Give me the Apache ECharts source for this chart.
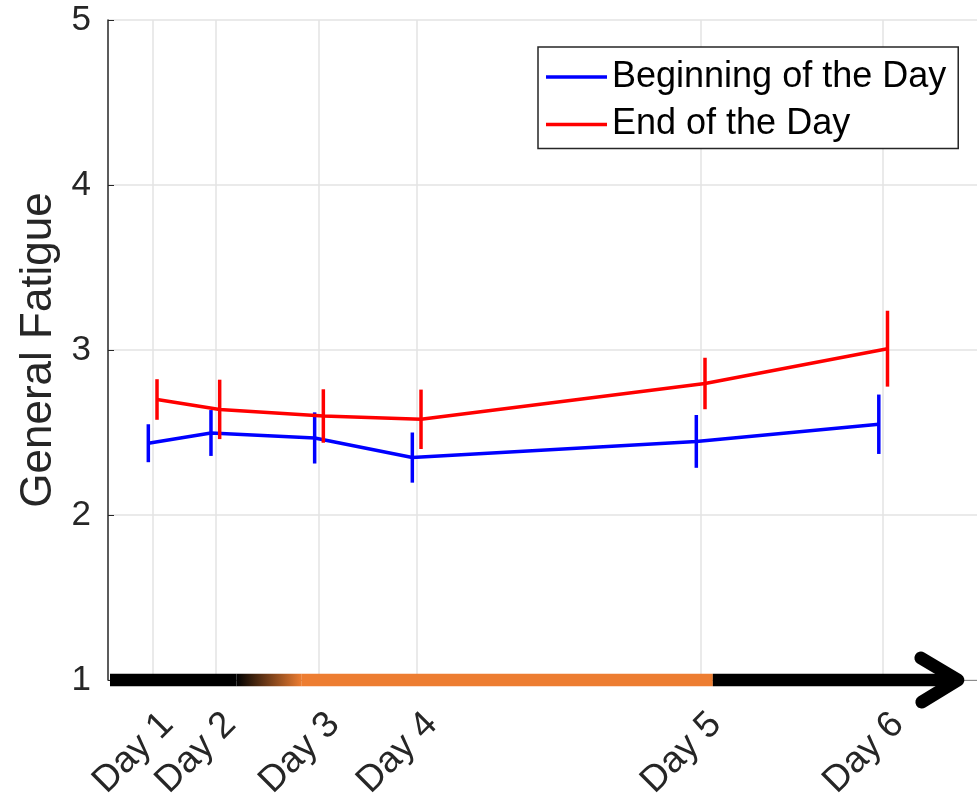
<!DOCTYPE html>
<html>
<head>
<meta charset="utf-8">
<script src="https://cdn.jsdelivr.net/npm/echarts@6/dist/echarts.min.js"></script>
<style>
html,body{margin:0;padding:0;background:#fff;}
#chart{width:977px;height:801px;}
</style>
</head>
<body>
<div id="chart"></div>
<script>
// ---- data ----
const days = ['Day 1', 'Day 2', 'Day 3', 'Day 4', 'Day 5', 'Day 6'];
const dayPos = [5.14, 12.35, 24.28, 35.52, 68.2, 89.2];
const beginMean = [2.435, 2.497, 2.467, 2.348, 2.446, 2.55];
const beginErr = [0.115, 0.139, 0.155, 0.152, 0.16, 0.18];
const endMean = [2.70, 2.64, 2.60, 2.58, 2.797, 3.008];
const endErr = [0.123, 0.18, 0.162, 0.18, 0.156, 0.23];
const yTicks = [1, 2, 3, 4, 5];
// timeline bar along the x axis: start, black end, orange start, orange end, arrow tip
const timelineStops = [0.23, 14.8, 22.3, 69.6, 97.8];
const dodge = 0.5;

const FONT = "'Liberation Sans', Arial, Helvetica, sans-serif";
const BLUE = '#0000ff', RED = '#ff0000', ORANGE = '#ED7D31';

const chart = echarts.init(document.getElementById('chart'));

function errData(mean, err, sign) {
  return dayPos.map((p, i) => [p + sign * dodge, mean[i] - err[i], mean[i] + err[i]]);
}
function errRender(color) {
  return function (params, api) {
    const x = api.value(0);
    const a = api.coord([x, api.value(1)]);
    const b = api.coord([x, api.value(2)]);
    return {
      type: 'line',
      shape: { x1: a[0], y1: a[1], x2: b[0], y2: b[1] },
      style: { stroke: color, lineWidth: 3.5 }
    };
  };
}

const option = {
  animation: false,
  backgroundColor: '#fff',
  grid: { left: 108, right: 0, top: 20, bottom: 121, containLabel: false, outerBoundsMode: 'none' },
  legend: {
    data: ['Beginning of the Day', 'End of the Day'],
    orient: 'vertical',
    left: 538, top: 47,
    icon: 'rect',
    itemWidth: 61, itemHeight: 3.5, itemGap: 11.5,
    padding: [12, 12, 6, 8],
    borderColor: '#262626', borderWidth: 1.5, backgroundColor: '#fff',
    textStyle: { fontSize: 36, color: '#000', fontFamily: FONT }
  },
  xAxis: {
    type: 'value', min: 0, max: 100,
    axisLine: { show: true, lineStyle: { color: '#8c8c8c', width: 1 } },
    axisTick: { show: true, inside: true, length: 5, customValues: dayPos, lineStyle: { color: '#555' } },
    splitLine: { show: true, lineStyle: { color: '#e3e3e3', width: 1.5 } },
    axisLabel: {
      customValues: dayPos,
      formatter: function (v) {
        const i = dayPos.findIndex(p => Math.abs(p - v) < 1e-6);
        return i >= 0 ? days[i] : '';
      },
      rotate: 45, margin: 24, verticalAlign: 'top', lineHeight: 42,
      fontSize: 37, color: '#262626', fontFamily: FONT
    }
  },
  yAxis: {
    type: 'value', min: 1, max: 5, interval: 1,
    name: 'General Fatigue', nameLocation: 'middle', nameGap: 47,
    nameTextStyle: { fontSize: 44, color: '#262626', fontFamily: FONT },
    axisLine: { show: true, lineStyle: { color: '#262626', width: 1.5 } },
    axisTick: { show: true, inside: true, length: 6, lineStyle: { color: '#262626' } },
    splitLine: { show: true, lineStyle: { color: '#e3e3e3', width: 1.5 } },
    axisLabel: {
      margin: 17, fontSize: 35, color: '#262626', fontFamily: FONT,
      formatter: v => (yTicks.indexOf(v) >= 0 ? String(v) : '')
    }
  },
  series: [
    {
      name: 'timeline', type: 'custom', z: 1, silent: true,
      data: [[timelineStops[0], 1]],
      encode: { x: 0, y: 1 },
      renderItem: function (params, api) {
        const px = timelineStops.map(s => api.coord([s, 1])[0]);
        const y = api.coord([0, 1])[1];
        const h = 12.5;
        const top = y - h / 2;
        return {
          type: 'group',
          children: [
            { type: 'rect', shape: { x: px[0], y: top, width: px[1] - px[0], height: h }, style: { fill: '#000' } },
            { type: 'rect', shape: { x: px[1], y: top, width: px[2] - px[1], height: h },
              style: { fill: new echarts.graphic.LinearGradient(0, 0, 1, 0, [{ offset: 0, color: '#000' }, { offset: 1, color: ORANGE }]) } },
            { type: 'rect', shape: { x: px[2], y: top, width: px[3] - px[2], height: h }, style: { fill: ORANGE } },
            { type: 'rect', shape: { x: px[3], y: top, width: px[4] - px[3] - 4, height: h }, style: { fill: '#000' } },
            { type: 'polyline', shape: { points: [[px[4] - 37, y - 22], [px[4], y], [px[4] - 36, y + 22]] },
              style: { stroke: '#000', lineWidth: 13, lineCap: 'round', lineJoin: 'round', fill: null } }
          ]
        };
      }
    },
    {
      name: 'Beginning of the Day', type: 'line', z: 3,
      data: dayPos.map((p, i) => [p - dodge, beginMean[i]]),
      symbol: 'none', lineStyle: { color: BLUE, width: 3.5 }, itemStyle: { color: BLUE }
    },
    {
      name: 'beginErr', type: 'custom', z: 3,
      data: errData(beginMean, beginErr, -1),
      encode: { x: 0, y: [1, 2] },
      renderItem: errRender(BLUE)
    },
    {
      name: 'End of the Day', type: 'line', z: 4,
      data: dayPos.map((p, i) => [p + dodge, endMean[i]]),
      symbol: 'none', lineStyle: { color: RED, width: 3.5 }, itemStyle: { color: RED }
    },
    {
      name: 'endErr', type: 'custom', z: 4,
      data: errData(endMean, endErr, 1),
      encode: { x: 0, y: [1, 2] },
      renderItem: errRender(RED)
    }
  ]
};
chart.setOption(option);
</script>
</body>
</html>
